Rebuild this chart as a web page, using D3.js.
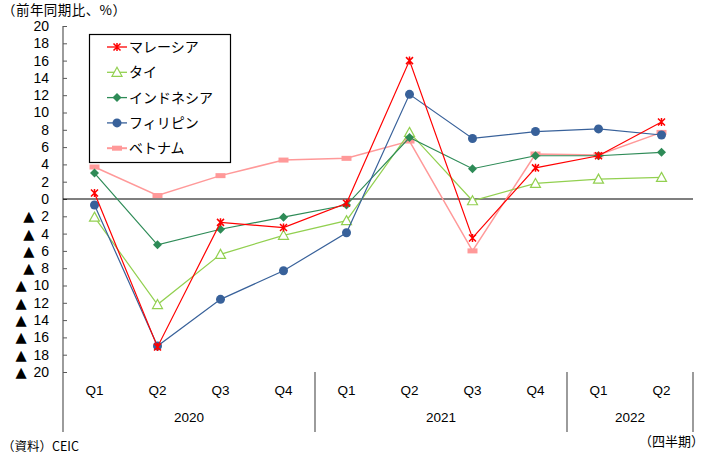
<!DOCTYPE html>
<html><head><meta charset="utf-8">
<script src="https://cdn.jsdelivr.net/npm/d3@7"></script>
<style>body{margin:0;background:#fff;} svg{display:block;}</style>
</head><body>
<svg id="c" width="704" height="454"></svg>
<script>
const quarters = ["Q1","Q2","Q3","Q4","Q1","Q2","Q3","Q4","Q1","Q2"];
const years = ["2020","2020","2020","2020","2021","2021","2021","2021","2022","2022"];
const yearGroups = [{label:"2020", n:4},{label:"2021", n:4},{label:"2022", n:2}];
const seriesNames = ["マレーシア","タイ","インドネシア","フィリピン","ベトナム"];
const malaysia = [0.7,-17.1,-2.7,-3.3,-0.5,16.0,-4.5,3.6,5.0,8.9];
const thailand = [-2.1,-12.2,-6.4,-4.2,-2.5,7.7,-0.2,1.8,2.3,2.5];
const indonesia = [3.0,-5.3,-3.5,-2.1,-0.7,7.1,3.5,5.0,5.0,5.4];
const philippines = [-0.7,-17.0,-11.6,-8.3,-3.9,12.1,7.0,7.8,8.1,7.4];
const vietnam = [3.7,0.4,2.7,4.5,4.7,6.7,-6.0,5.2,5.1,7.7];
const yTicks = [20,18,16,14,12,10,8,6,4,2,0,-2,-4,-6,-8,-10,-12,-14,-16,-18,-20];

const colors = ["#FF0000","#92D050","#2E8B57","#38619A","#FF9999"];
const markers = ["star","tri","diamond","circle","dash"];
const allSeries = [malaysia,thailand,indonesia,philippines,vietnam];

const svg = d3.select("#c");
const numFont = "'Liberation Sans', Arial, sans-serif";
const jpFont = "'Noto Sans CJK JP', sans-serif";

const keys = quarters.map((q,i)=>years[i]+q);
const x = d3.scaleBand().domain(keys).range([63,693]);
const y = d3.scaleLinear().domain([-20,20]).range([372,26]);

// y axis
const yAxis = d3.axisLeft(y).tickValues(yTicks).tickSize(-4).tickPadding(14)
  .tickFormat(d => String(Math.abs(d)));
const ga = svg.append("g").attr("transform","translate(63,0)").call(yAxis);
ga.select(".domain").remove();
ga.selectAll(".tick line").attr("stroke","#595959");
ga.selectAll(".tick text").attr("font-family",numFont).attr("font-size",14).attr("fill","#000");
ga.selectAll(".tick text").filter(d=>d<0).each(function(d){
  const t = d3.select(this).text("");
  t.append("tspan").attr("font-family","'DejaVu Sans', sans-serif").attr("font-size",14.5).text("▲");
  t.append("tspan").attr("dx",3).text(" " + Math.abs(d));
});
svg.append("line").attr("x1",63).attr("x2",63).attr("y1",26).attr("y2",432).attr("stroke","#595959").attr("stroke-width",1.2);

// zero line
svg.append("line").attr("x1",63).attr("x2",693).attr("y1",y(0)).attr("y2",y(0)).attr("stroke","#000").attr("stroke-width",1.2);

// category axis
const gx = svg.append("g");
gx.selectAll("text.q").data(keys).join("text").attr("class","q")
  .attr("x",d=>x(d)+x.bandwidth()/2).attr("y",395).attr("text-anchor","middle")
  .attr("font-family",numFont).attr("font-size",13.5).text((d,i)=>quarters[i]);
let idx = 0;
yearGroups.forEach(g=>{
  const x0 = x(keys[idx]);
  const x1 = x(keys[idx+g.n-1]) + x.bandwidth();
  gx.append("text").attr("x",(x0+x1)/2).attr("y",422).attr("text-anchor","middle")
    .attr("font-family",numFont).attr("font-size",13.5).text(g.label);
  gx.append("line").attr("x1",x1).attr("x2",x1).attr("y1",372).attr("y2",432).attr("stroke","#595959").attr("stroke-width",1.2);
  idx += g.n;
});

function drawMarker(g, type, color, cx, cy){
  if(type==="star"){
    const s=3.5;
    g.append("path").attr("d",`M${cx-s},${cy-s}L${cx+s},${cy+s}M${cx-s},${cy+s}L${cx+s},${cy-s}M${cx},${cy-s-0.5}L${cx},${cy+s+0.5}`)
      .attr("stroke",color).attr("stroke-width",1.5).attr("fill","none");
  } else if(type==="tri"){
    g.append("path").attr("d",`M${cx},${cy-5}L${cx+5},${cy+4}L${cx-5},${cy+4}Z`)
      .attr("stroke",color).attr("stroke-width",1.2).attr("fill","#fff");
  } else if(type==="diamond"){
    g.append("path").attr("d",`M${cx},${cy-4.5}L${cx+4.5},${cy}L${cx},${cy+4.5}L${cx-4.5},${cy}Z`).attr("fill",color);
  } else if(type==="circle"){
    g.append("circle").attr("cx",cx).attr("cy",cy).attr("r",4.5).attr("fill",color);
  } else if(type==="dash"){
    g.append("rect").attr("x",cx-5).attr("y",cy-2.5).attr("width",10).attr("height",5).attr("fill",color);
  }
}

const line = d3.line().x((d,i)=>x(keys[i])+x.bandwidth()/2).y(d=>y(d));
[4,1,2,3,0].forEach(si=>{
  const g = svg.append("g");
  g.append("path").attr("d",line(allSeries[si])).attr("fill","none")
    .attr("stroke",colors[si]).attr("stroke-width",si===4?1.5:1.2);
  allSeries[si].forEach((v,i)=>drawMarker(g,markers[si],colors[si],x(keys[i])+x.bandwidth()/2,y(v)));
});

// legend
const lg = svg.append("g");
lg.append("rect").attr("x",89.5).attr("y",34.5).attr("width",141).attr("height",128).attr("fill","#fff").attr("stroke","#000").attr("stroke-width",1.2);
seriesNames.forEach((n,i)=>{
  const ly = 47 + i*25.3;
  lg.append("line").attr("x1",107).attr("x2",127).attr("y1",ly).attr("y2",ly).attr("stroke",colors[i]).attr("stroke-width",i===4?2:1.3);
  drawMarker(lg,markers[i],colors[i],117,ly);
  lg.append("text").attr("x",129).attr("y",ly+5).attr("font-family",jpFont).attr("font-size",14).text(n);
});

// texts
svg.append("text").attr("x",2).attr("y",14.5).attr("font-family",jpFont).attr("font-size",13.5).attr("textLength",124).text("（前年同期比、%）");
svg.append("text").attr("x",2).attr("y",451).attr("font-family",jpFont).attr("font-size",12.5).text("（資料）CEIC");
svg.append("text").attr("x",704).attr("y",446).attr("text-anchor","end").attr("font-family",jpFont).attr("font-size",13).text("（四半期）");
</script>
</body></html>
